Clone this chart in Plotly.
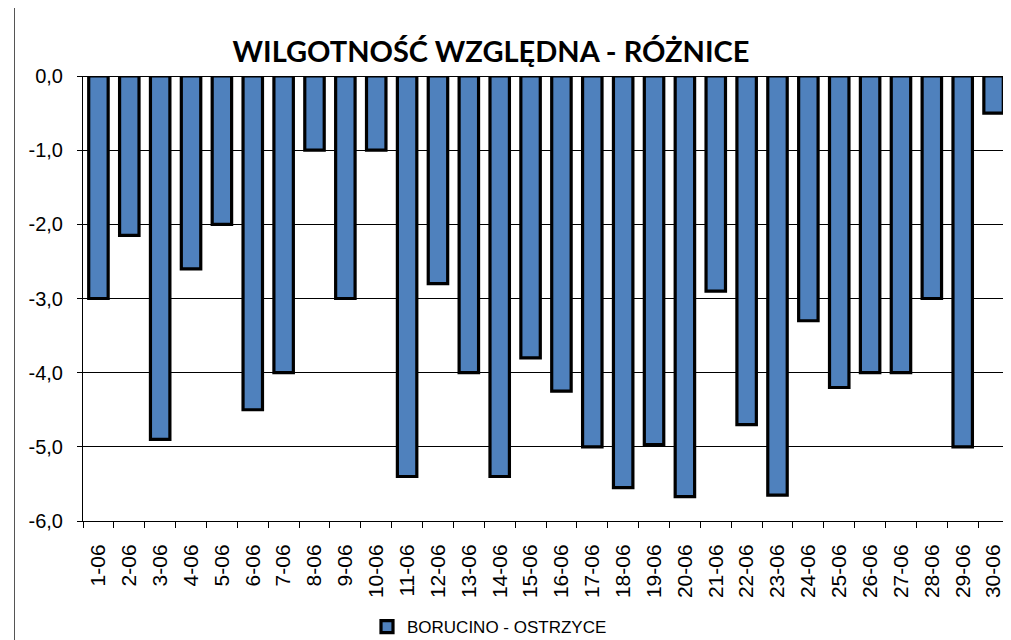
import plotly.graph_objects as go

categories = [f"{d}-06" for d in range(1, 31)]
values = [-3.0, -2.15, -4.9, -2.6, -2.0, -4.5, -4.0, -1.0, -3.0, -1.0,
          -5.4, -2.8, -4.0, -5.4, -3.8, -4.25, -5.0, -5.55, -4.97, -5.67,
          -2.9, -4.7, -5.65, -3.3, -4.2, -4.0, -4.0, -3.0, -5.0, -0.5]
series_name = "BORUCINO - OSTRZYCE"
title_text = "WILGOTNOŚĆ WZGLĘDNA - RÓŻNICE"
ytick_vals = [0, -1, -2, -3, -4, -5, -6]
ytick_text = ["0,0", "-1,0", "-2,0", "-3,0", "-4,0", "-5,0", "-6,0"]

# page body has an 8px default margin; work in screen coordinates
OFF = 8
W, H = 1011 - OFF, 640 - OFF
L, R, T, B = 83 - OFF, 1009 - OFF, 76 - OFF, 521 - OFF

fig = go.Figure()
fig.add_trace(go.Bar(
    x=categories, y=values, name=series_name,
    marker=dict(color="#4F81BD", line=dict(color="black", width=3.2)),
    showlegend=True,
))

pw, ph = R - L, B - T
def px_x(p):
    return (p - OFF - L) / pw
def px_y(p):
    return (B - (p - OFF)) / ph

fig.update_layout(
    width=W, height=H, autosize=False,
    margin=dict(l=L, r=W - R, t=T, b=H - B, autoexpand=False),
    paper_bgcolor="white", plot_bgcolor="white",
    bargap=0.37,
    title=dict(text=f"<b>{title_text}</b>", x=(491 - OFF) / W, xanchor="center",
               xref="container",
               y=1 - (52 - OFF) / H, yanchor="middle", yref="container",
               font=dict(family="Lato", size=29, color="black")),
    font=dict(family="Liberation Sans, Arial", color="black"),
    showlegend=True,
    legend=dict(orientation="h", x=px_x(367), xanchor="left",
                y=px_y(627), yanchor="middle", itemwidth=30,
                font=dict(family="Liberation Sans, Arial", size=17, color="black"),
                bgcolor="rgba(0,0,0,0)"),
    xaxis=dict(type="category", showline=True, linecolor="black", linewidth=1,
               ticks="outside", ticklen=6, tickcolor="black", tickwidth=1,
               tickson="boundaries", tickangle=-90, automargin=False,
               tickfont=dict(family="Liberation Sans, Arial", size=21, color="black"),
               showgrid=False, zeroline=False, ticklabelstandoff=14),
    yaxis=dict(range=[-6, 0], tickvals=ytick_vals, ticktext=ytick_text,
               showline=True, linecolor="black", linewidth=1, automargin=False,
               ticks="outside", ticklen=5, tickcolor="black",
               tickfont=dict(family="Liberation Sans, Arial", size=20, color="black"),
               showgrid=True, gridcolor="black", gridwidth=1,
               zeroline=True, zerolinecolor="black", zerolinewidth=1,
               ticklabelstandoff=10),
    shapes=[
        dict(type="line", xref="paper", yref="paper", x0=1, x1=1, y0=0, y1=1,
             line=dict(color="#808080", width=1), layer="below"),
        dict(type="rect", xref="paper", yref="paper",
             x0=px_x(14.5), x1=px_x(1016), y0=px_y(660), y1=px_y(7.5),
             line=dict(color="#555555", width=1), fillcolor="rgba(0,0,0,0)",
             layer="below"),
    ],
)

fig.write_html("out.html")
